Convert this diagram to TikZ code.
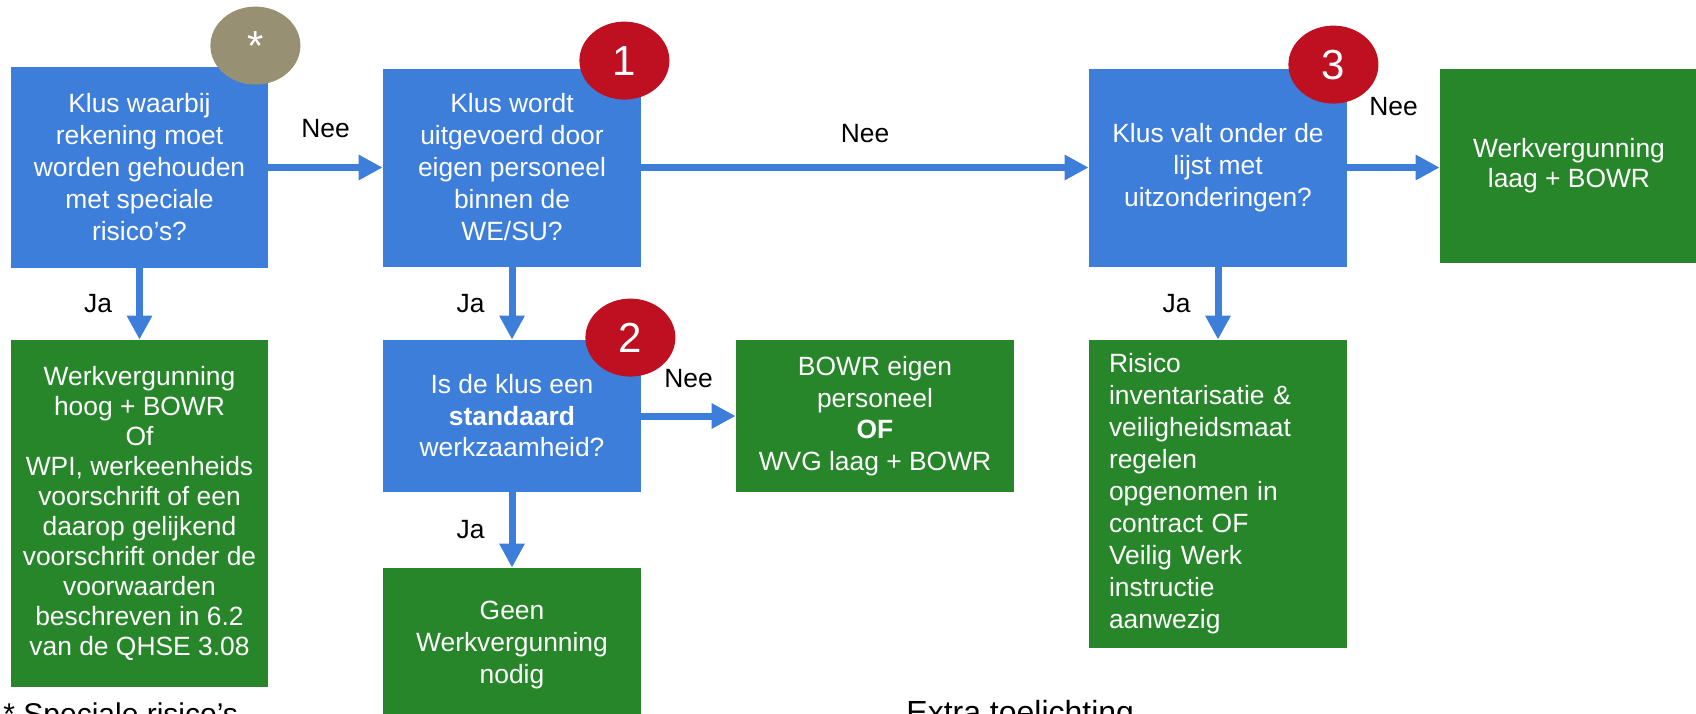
\documentclass[tikz,border=0pt]{standalone}
\usepackage{fontspec}
\setmainfont{Liberation Sans}
\usetikzlibrary{shapes.geometric,arrows.meta}
\definecolor{qblue}{HTML}{3E7EDB}
\definecolor{okgreen}{HTML}{28862A}
\definecolor{badgered}{HTML}{BE1021}
\definecolor{staroive}{HTML}{989072}
\begin{document}
\begin{tikzpicture}[x=0.5pt, y=-0.5pt,
  box/.style={rectangle, inner sep=0pt, text=white, align=center, minimum width=129pt, minimum height=99pt, font=\fontsize{13.2}{16}\selectfont},
  question/.style={box, fill=qblue},
  outcome/.style={box, fill=okgreen},
  badge/.style={ellipse, fill=badgered, text=white, inner sep=0pt, minimum width=45pt, minimum height=39pt, font=\fontsize{21}{21}\selectfont},
  lbl/.style={inner sep=0pt, font=\fontsize{13.2}{16}\selectfont},
  flow/.style={draw=qblue, line width=3.5pt, -{Triangle[length=12pt, width=12pt]}}]
  \useasboundingbox (0,0) rectangle (1696,713);
  % Nodes
  \node[question, minimum width=128.5pt, minimum height=100.5pt] (special) at (139.5,167.5) {Klus waarbij\\rekening moet\\worden gehouden\\met speciale\\risico’s?};
  \node[question] (ownstaff) at (512,167.5) {Klus wordt\\uitgevoerd door\\eigen personeel\\binnen de\\WE/SU?};
  \node[question] (except) at (1218,167.5) {Klus valt onder de\\lijst met\\uitzonderingen?};
  \node[outcome, minimum height=97pt, font=\fontsize{13.2}{15}\selectfont] (lowpermit) at (1569,166) {Werkvergunning\\laag + BOWR};
  \node[outcome, minimum width=128.5pt, minimum height=173.5pt, font=\fontsize{13.2}{15}\selectfont] (highpermit) at (139.5,513.5) {Werkvergunning\\hoog + BOWR\\Of\\WPI, werkeenheids\\voorschrift of een\\daarop gelijkend\\voorschrift onder de\\voorwaarden\\beschreven in 6.2\\van de QHSE 3.08};
  \node[question, minimum height=76pt, font=\fontsize{13.2}{15.75}\selectfont] (standard) at (512,416) {Is de klus een\\\textbf{standaard}\\werkzaamheid?};
  \node[outcome, minimum width=139pt, minimum height=76pt, font=\fontsize{13.2}{15.75}\selectfont] (bowr) at (875,416) {BOWR eigen\\personeel\\\textbf{OF}\\WVG laag + BOWR};
  \node[outcome, minimum height=77pt] (nopermit) at (512,645) {Geen\\Werkvergunning\\nodig};
  \node[outcome, minimum height=154pt, align=left, text width=109pt, inner xsep=10pt] (riskinv) at (1218,494) {Risico\\inventarisatie \&\\veiligheidsmaat\\regelen\\opgenomen in\\contract OF\\Veilig Werk\\instructie\\aanwezig};
  % Badges
  \node[badge, fill=staroive] (starmark) at ([shift={(-13,-21)}]special.north east) {*};
  \node[badge] (one) at ([shift={(-17,-7.5)}]ownstaff.north east) {1};
  \node[badge] (two) at ([shift={(-11,-2)}]standard.north east) {2};
  \node[badge] (three) at ([shift={(-14,-3.5)}]except.north east) {3};
  % Notes
  \node[inner sep=0pt, anchor=north west, font=\fontsize{15}{18}\selectfont] (starnote) at (3,702) {* Speciale risico’s};
  \node[inner sep=0pt, anchor=north west, font=\fontsize{16}{19}\selectfont] (extranote) at (906,700) {Extra toelichting};
  % Connections
  \draw[flow] (special) -- node[lbl, above=13pt] {Nee} (ownstaff);
  \draw[flow] (ownstaff) -- node[lbl, above=10.6pt] {Nee} (except);
  \draw[flow] (except) -- node[lbl, above=24pt] {Nee} (lowpermit.west |- except.east);
  \draw[flow] (special) -- node[lbl, left=12pt] {Ja} (highpermit);
  \draw[flow] (ownstaff) -- node[lbl, left=12pt] {Ja} (standard);
  \draw[flow] (standard) -- node[lbl, above=12.3pt] {Nee} (bowr);
  \draw[flow] (standard) -- node[lbl, left=12pt] {Ja} (nopermit);
  \draw[flow] (except) -- node[lbl, left=12pt] {Ja} (riskinv);
\end{tikzpicture}
\end{document}
